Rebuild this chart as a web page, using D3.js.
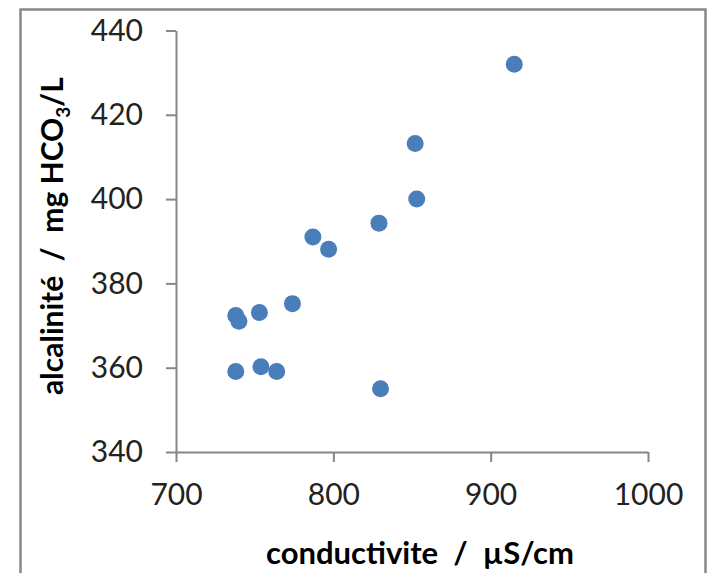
<!DOCTYPE html>
<html>
<head>
<meta charset="utf-8">
<script src="https://cdn.jsdelivr.net/npm/d3@7"></script>
<style>
  html, body { margin: 0; padding: 0; background: #fff; }
  svg { display: block; }
</style>
</head>
<body>
<svg id="chart" width="710" height="573"></svg>
<script>
// Data
const conductivite = [915, 852, 853, 829, 787, 797, 774, 753, 738, 740, 754, 738, 764, 830];
const alcalinite   = [432, 413.2, 400, 394.3, 391, 388.1, 375.2, 373.1, 372.4, 371, 360.2, 359.1, 359.1, 355];
const xTicks = [700, 800, 900, 1000];
const yTicks = [340, 360, 380, 400, 420, 440];
const xTitle = "conductivite  /  µS/cm";

const svg = d3.select("#chart");

// outer chart border
svg.append("rect")
  .attr("x", 20.5).attr("y", 9.5)
  .attr("width", 685).attr("height", 600)
  .attr("fill", "#fff")
  .attr("stroke", "#878787")
  .attr("stroke-width", 2.5);

const x = d3.scaleLinear().domain([700, 1000]).range([176, 648]);
const y = d3.scaleLinear().domain([340, 440]).range([452, 30.5]);

const axisColor = "#868686";
const tickFont = "Lato, 'Open Sans', sans-serif";

// X axis
const gx = svg.append("g")
  .attr("transform", `translate(0,${y(340)})`)
  .call(d3.axisBottom(x).tickValues(xTicks).tickSize(10).tickSizeOuter(0).tickPadding(22).tickFormat(d3.format("d")));
// Y axis
const gy = svg.append("g")
  .attr("transform", `translate(${x(700)},0)`)
  .call(d3.axisLeft(y).tickValues(yTicks).tickSize(10).tickSizeOuter(0).tickPadding(23).tickFormat(d3.format("d")));

[gx, gy].forEach(g => {
  g.select(".domain").attr("stroke", axisColor).attr("stroke-width", 2);
  g.selectAll(".tick line").attr("stroke", axisColor).attr("stroke-width", 2);
  g.selectAll(".tick text")
    .attr("fill", "#222")
    .style("font-family", tickFont)
    .style("font-size", "30px");
});

// Points
svg.append("g").selectAll("circle")
  .data(conductivite.map((c, i) => ({c, a: alcalinite[i]})))
  .join("circle")
  .attr("cx", d => x(d.c))
  .attr("cy", d => y(d.a))
  .attr("r", 8.5)
  .attr("fill", "#4a7ebb");

// X title
svg.append("text")
  .attr("x", 420).attr("y", 564)
  .attr("text-anchor", "middle")
  .attr("fill", "#000")
  .style("font-family", tickFont)
  .style("font-weight", "bold")
  .style("font-size", "31px")
  .style("white-space", "pre")
  .text(xTitle);

// Y title
const yt = svg.append("text")
  .attr("transform", "translate(63,236) rotate(-90)")
  .attr("text-anchor", "middle")
  .attr("fill", "#000")
  .style("font-family", tickFont)
  .style("font-weight", "bold")
  .style("font-size", "30px")
  .style("white-space", "pre");
yt.append("tspan").text("alcalinité  /  mg HCO");
yt.append("tspan").attr("dy", 7).style("font-size", "19px").text("3");
yt.append("tspan").attr("dy", -7).text("/L");
</script>
</body>
</html>
